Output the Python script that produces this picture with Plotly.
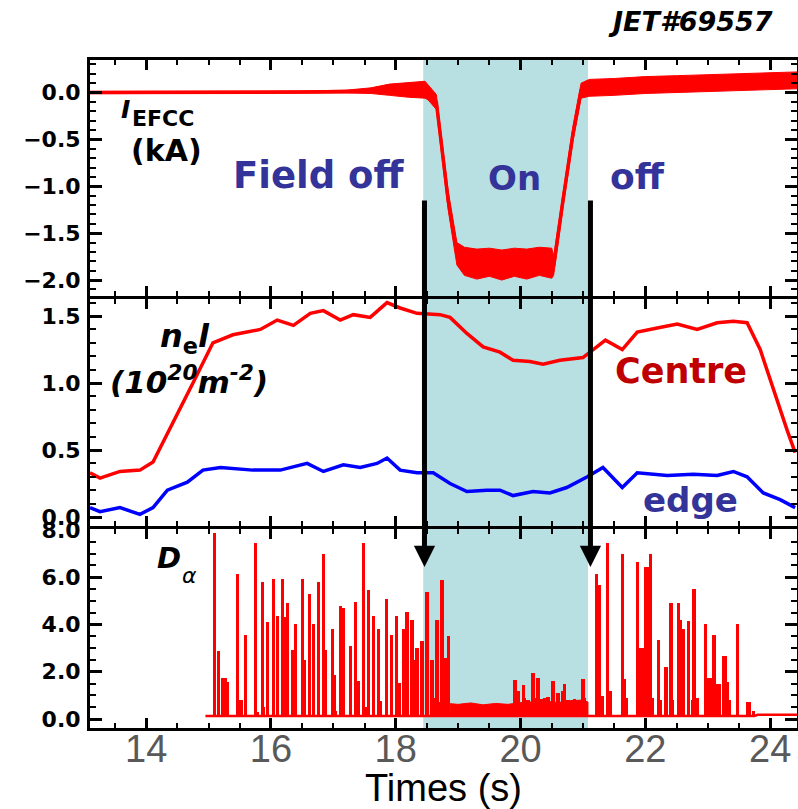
import plotly.graph_objects as go

# ---------------- data ----------------
# Panel 1 : EFCC coil current (kA) - centre of the noisy trace and its half spread
efcc_t = [13.10, 15.00, 16.50, 17.20, 17.60, 17.90, 18.20, 18.47, 18.52, 18.65, 18.84, 18.98,
          19.10, 19.30, 19.50, 19.70, 19.90, 20.10, 20.30, 20.50, 20.53, 20.68, 20.84, 20.97,
          21.10, 21.50, 22.00, 22.50, 23.00, 23.50, 24.00, 24.43]
efcc_mid = [0.00, 0.00, 0.005, 0.01, 0.02, 0.03, 0.03, 0.03, 0.00, -0.10, -1.15, -1.72,
            -1.80, -1.83, -1.81, -1.84, -1.81, -1.83, -1.80, -1.82, -1.85, -1.15, -0.44, 0.02,
            0.05, 0.06, 0.08, 0.09, 0.10, 0.11, 0.12, 0.13]
efcc_half = [0.012, 0.012, 0.012, 0.015, 0.03, 0.06, 0.08, 0.09, 0.08, 0.08, 0.10, 0.12,
             0.15, 0.16, 0.15, 0.16, 0.15, 0.16, 0.15, 0.16, 0.10, 0.08, 0.08, 0.08,
             0.09, 0.09, 0.09, 0.09, 0.09, 0.09, 0.09, 0.09]

# Panel 2 : line integrated density (1e20 m^-2)
centre_t = [13.10, 13.26, 13.58, 13.90, 14.11, 14.43, 14.75, 15.07, 15.39, 15.83, 16.10, 16.36,
            16.63, 16.84, 17.11, 17.32, 17.59, 17.86, 18.07, 18.34, 18.71, 18.87, 19.14, 19.40,
            19.67, 19.88, 20.15, 20.36, 20.63, 21.00, 21.36, 21.63, 21.87, 22.19, 22.51, 22.83,
            23.15, 23.41, 23.63, 23.84, 24.05, 24.27, 24.40]
centre_v = [0.33, 0.29, 0.34, 0.35, 0.41, 0.70, 1.00, 1.30, 1.36, 1.40, 1.47, 1.43,
            1.52, 1.54, 1.47, 1.51, 1.49, 1.60, 1.56, 1.52, 1.51, 1.49, 1.37, 1.27,
            1.23, 1.17, 1.16, 1.14, 1.17, 1.19, 1.32, 1.25, 1.38, 1.41, 1.44, 1.40,
            1.45, 1.46, 1.45, 1.25, 0.95, 0.65, 0.48]
edge_t = [13.10, 13.26, 13.58, 13.90, 14.11, 14.34, 14.66, 14.91, 15.19, 15.71, 16.15, 16.58,
          16.84, 17.16, 17.43, 17.70, 17.86, 18.07, 18.34, 18.60, 18.87, 19.14, 19.46, 19.67,
          19.88, 20.20, 20.47, 20.74, 21.07, 21.32, 21.63, 21.87, 22.35, 22.77, 23.15, 23.41,
          23.63, 23.89, 24.16, 24.40]
edge_v = [0.07, 0.04, 0.07, 0.02, 0.07, 0.20, 0.26, 0.35, 0.37, 0.35, 0.35, 0.40,
          0.34, 0.39, 0.37, 0.40, 0.44, 0.35, 0.33, 0.33, 0.25, 0.19, 0.20, 0.20,
          0.16, 0.19, 0.18, 0.22, 0.30, 0.37, 0.22, 0.33, 0.31, 0.32, 0.31, 0.34,
          0.30, 0.18, 0.13, 0.07]

# Panel 3 : D-alpha ELM spikes (peak values) and background level
spike_t = [15.09, 15.16, 15.22, 15.27, 15.30, 15.47, 15.52, 15.59, 15.75, 15.78, 15.86, 15.88,
           15.94, 16.04, 16.10, 16.18, 16.23, 16.26, 16.34, 16.40, 16.50, 16.53, 16.62, 16.68,
           16.76, 16.84, 16.88, 16.98, 17.01, 17.04, 17.11, 17.16, 17.27, 17.35, 17.40, 17.48,
           17.51, 17.57, 17.65, 17.72, 17.76, 17.85, 17.93, 18.01, 18.06, 18.12, 18.18, 18.26,
           18.31, 18.34, 18.42, 18.50, 18.58, 18.60, 18.66, 18.68, 18.74, 18.79, 18.84,
           19.91, 19.96, 20.04, 20.07, 20.12, 20.20, 20.23, 20.28, 20.34, 20.39, 20.44, 20.52,
           20.60, 20.67, 20.71, 20.76, 20.87, 20.96, 21.00, 21.03,
           21.22, 21.26, 21.31, 21.39, 21.44, 21.63, 21.66, 21.69, 21.87, 21.90, 21.95, 22.00,
           22.04, 22.08, 22.12, 22.21, 22.24, 22.33, 22.41, 22.44, 22.53, 22.57, 22.61, 22.69,
           22.75, 22.78, 22.83, 22.96, 22.99, 23.04, 23.10, 23.13, 23.18, 23.25, 23.28, 23.31,
           23.34, 23.47, 23.63, 23.66, 23.73]
spike_h = [7.87, 2.89, 1.74, 1.74, 1.57, 6.13, 0.80, 3.57, 7.45, 0.30, 5.79, 0.50,
           4.09, 5.91, 4.34, 5.91, 4.30, 4.89, 2.90, 4.00, 5.91, 2.50, 5.28, 4.00,
           5.79, 6.98, 2.90, 3.79, 1.87, 0.34, 4.77, 4.70, 3.10, 4.94, 1.60, 7.45,
           0.50, 5.45, 4.38, 3.79, 0.77, 5.06, 3.57, 4.34, 1.53, 3.79, 4.51, 4.17,
           2.50, 3.02, 3.32, 5.36, 2.50, 0.90, 4.21, 0.70, 5.87, 2.60, 3.53,
           1.66, 1.20, 1.45, 0.90, 0.80, 1.96, 0.90, 1.74, 0.85, 0.90, 0.95, 1.62,
           1.10, 1.20, 1.49, 0.80, 0.85, 0.80, 1.70, 0.90,
           6.13, 5.66, 0.98, 7.45, 1.19, 6.98, 1.70, 0.90, 6.64, 3.02, 3.02, 6.43,
           6.43, 6.98, 0.90, 3.36, 0.80, 2.21, 4.89, 0.80, 4.89, 4.17, 3.79, 4.13,
           0.80, 5.49, 0.90, 4.04, 1.74, 1.74, 3.57, 1.49, 1.49, 2.68, 2.68, 1.57,
           0.80, 4.00, 0.72, 0.72, 0.34]
dalpha_base_t = [14.95, 18.90, 21.08, 23.75, 23.80, 24.43]
dalpha_base_v = [0.13, 0.13, 0.13, 0.13, 0.18, 0.18]
dalpha_on_t = [18.87, 19.00, 19.20, 19.40, 19.60, 19.80, 20.00, 20.20, 20.40, 20.60, 20.80, 21.00, 21.08]
dalpha_on_hi = [0.65, 0.62, 0.68, 0.60, 0.66, 0.62, 0.70, 0.72, 0.75, 0.70, 0.78, 0.80, 0.72]
dalpha_floor = 0.13

field_on = [18.44, 21.08]
arrow_t = [18.46, 21.12]

# ---------------- figure ----------------
W, H = 798, 809
ML, MR, MT, MB = 90, 1, 60, 81
PW, PH = W - ML - MR, H - MT - MB


def px(x):
    return (x - ML) / PW


def py(y):
    return (H - MB - y) / PH


RED = "#ff0000"
BLUE = "#0000ff"
TXTBLUE = "#333399"
fig = go.Figure()

# panel 1 : noisy band + centre line
fig.add_trace(go.Scatter(
    x=efcc_t + efcc_t[::-1],
    y=[m + h for m, h in zip(efcc_mid, efcc_half)] + [m - h for m, h in zip(efcc_mid, efcc_half)][::-1],
    fill="toself", fillcolor=RED, line=dict(color=RED, width=1), mode="lines",
    xaxis="x", yaxis="y", hoverinfo="skip", showlegend=False))
fig.add_trace(go.Scatter(x=efcc_t, y=efcc_mid, mode="lines", line=dict(color=RED, width=3.5),
                         xaxis="x", yaxis="y", showlegend=False))

# panel 2
fig.add_trace(go.Scatter(x=centre_t, y=centre_v, mode="lines", line=dict(color=RED, width=3.5),
                         xaxis="x2", yaxis="y2", showlegend=False))
fig.add_trace(go.Scatter(x=edge_t, y=edge_v, mode="lines", line=dict(color=BLUE, width=3.5),
                         xaxis="x2", yaxis="y2", showlegend=False))

# panel 3
fig.add_trace(go.Scatter(x=dalpha_base_t, y=dalpha_base_v, mode="lines", line=dict(color=RED, width=2.5),
                         xaxis="x3", yaxis="y3", showlegend=False))
fig.add_trace(go.Scatter(
    x=dalpha_on_t + dalpha_on_t[::-1],
    y=dalpha_on_hi + [dalpha_floor] * len(dalpha_on_t),
    fill="toself", fillcolor=RED, line=dict(color=RED, width=1), mode="lines",
    xaxis="x3", yaxis="y3", hoverinfo="skip", showlegend=False))
fig.add_trace(go.Bar(x=spike_t, y=[h - dalpha_floor for h in spike_h], base=dalpha_floor,
                     width=0.05, marker=dict(color=RED, line=dict(width=0)),
                     xaxis="x3", yaxis="y3", showlegend=False))

# shaded "field on" window
fig.add_shape(type="rect", xref="x3", yref="paper", x0=field_on[0], x1=field_on[1], y0=0, y1=1,
              fillcolor="#b8dfe2", line=dict(width=0), layer="below")

# arrows
for t in arrow_t:
    fig.add_annotation(x=t, y=6.43, xref="x3", yref="y3", ax=0, ay=-368, text="",
                       showarrow=True, arrowhead=2, arrowsize=0.85, arrowwidth=5,
                       arrowcolor="black")

ytick_font = dict(family="DejaVu Sans", size=22, color="black", weight="bold")
common_x = dict(range=[13.10, 24.43], showline=True, linewidth=3, linecolor="black",
                mirror="allticks", ticks="inside", ticklen=10, tickwidth=2.5, tickcolor="black",
                dtick=2, tick0=0, showgrid=False, zeroline=False,
                minor=dict(ticks="inside", ticklen=5, tickwidth=2, dtick=0.5, tickcolor="black"))
common_y = dict(showline=True, linewidth=3, linecolor="black", mirror="allticks",
                ticks="inside", ticklen=12, tickwidth=2.5, tickcolor="black",
                showgrid=False, zeroline=False, tickfont=ytick_font, tickformat=".1f",
                ticklabelstandoff=2)

fig.update_layout(
    width=W, height=H, margin=dict(l=ML, r=MR, t=MT, b=MB, autoexpand=False),
    paper_bgcolor="white", plot_bgcolor="rgba(0,0,0,0)", bargap=0,
    xaxis=dict(common_x, anchor="y", matches="x3", showticklabels=False),
    xaxis2=dict(common_x, anchor="y2", matches="x3", showticklabels=False),
    xaxis3=dict(common_x, anchor="y3", showticklabels=True,
                tickfont=dict(family="Liberation Sans", size=38, color="#595959"),
                ticklabelstandoff=-15,
                title=dict(text="Times (s)", standoff=14,
                           font=dict(family="Liberation Sans", size=38, color="black"))),
    yaxis=dict(common_y, domain=[py(296), 1], range=[-2.17, 0.347], dtick=0.5, tick0=0,
               minor=dict(ticks="inside", ticklen=6, tickwidth=2, dtick=0.1, tickcolor="black")),
    yaxis2=dict(common_y, domain=[py(526), py(299)], range=[-0.067, 1.627], dtick=0.5, tick0=0,
                minor=dict(ticks="inside", ticklen=6, tickwidth=2, dtick=0.1, tickcolor="black")),
    yaxis3=dict(common_y, domain=[0, py(529)], range=[-0.38, 8.04], dtick=2, tick0=0,
                minor=dict(ticks="inside", ticklen=6, tickwidth=2, dtick=0.5, tickcolor="black")),
)


def label(text, x, y, size, color="black", italic=False, xanchor="left", bold=True):
    f = dict(family="DejaVu Sans", size=size, color=color)
    if bold:
        f["weight"] = "bold"
    if italic:
        f["style"] = "italic"
    fig.add_annotation(text=text, x=px(x), y=py(y), xref="paper", yref="paper",
                       xanchor=xanchor, yanchor="middle", showarrow=False, font=f)


label("JET#69557", 775, 22, 27, italic=True, xanchor="right")
label("I", 119, 110, 25, italic=True)
label("EFCC", 130, 119, 22)
label("(kA)", 129, 150, 30)
label("Field off", 231, 175, 37, TXTBLUE)
label("On", 486, 178, 34, TXTBLUE)
label("off", 608, 176, 36, TXTBLUE)
label("<i>n</i><sub>e</sub><i>l</i>", 158, 338, 32)
label("(10<sup>20</sup>m<sup>-2</sup>)", 108, 380, 31, italic=True)
label("Centre", 613, 371, 35, "#c00000")
label("edge", 641, 500, 34, TXTBLUE)
label("D", 155, 558, 29, italic=True)
label("α", 180, 575, 22, italic=True, bold=False)

fig.write_html("out.html")
